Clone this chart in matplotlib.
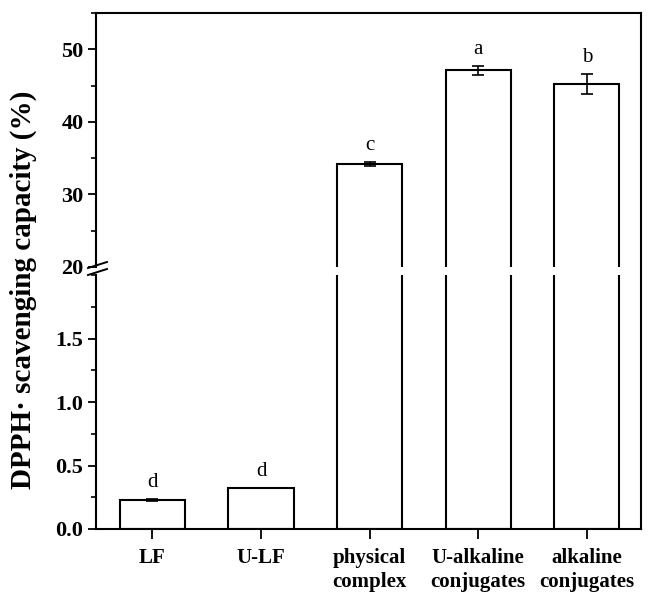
import numpy as np
import matplotlib
matplotlib.use("Agg")
from matplotlib import pyplot as plt
from matplotlib.lines import Line2D
from matplotlib.ticker import MultipleLocator

plt.rcParams["font.family"] = ["Liberation Serif", "DejaVu Serif"]

samples = ["LF", "U-LF", "physical\ncomplex", "U-alkaline\nconjugates", "alkaline\nconjugates"]
values = [0.23, 0.32, 34.2, 47.1, 45.2]
errors = [0.01, 0.0, 0.3, 0.6, 1.4]
letters = ["d", "d", "c", "a", "b"]

fig = plt.figure(figsize=(6.57, 5.96), dpi=100)
W, H = 657, 596
left, right = 96 / W, 641 / W
ax_top = fig.add_axes([left, 1 - 267 / H, right - left, (267 - 13) / H])
ax_bot = fig.add_axes([left, 1 - 529 / H, right - left, (529 - 275) / H])

x = np.arange(len(samples))
lw = 1.5
for ax in (ax_top, ax_bot):
    ax.bar(x, values, width=0.6, color="white", edgecolor="black", linewidth=lw,
           yerr=errors, capsize=4, error_kw=dict(elinewidth=1.2, capthick=1.2, ecolor="black"))
    ax.set_xlim(-0.52, 4.5)
    ax.spines["right"].set_visible(False)
    for s in ("left", "top", "bottom"):
        ax.spines[s].set_linewidth(lw)
    ax.tick_params(axis="y", which="major", direction="out", length=6, width=1.3,
                   labelsize=16, pad=3)
    ax.tick_params(axis="y", which="minor", direction="out", length=3.5, width=1.2)

ax_top.set_ylim(20, 55)
ax_top.yaxis.set_major_locator(MultipleLocator(10))
ax_top.yaxis.set_minor_locator(MultipleLocator(5))
ax_top.spines["bottom"].set_visible(False)
ax_top.tick_params(axis="x", bottom=False, labelbottom=False)

ax_bot.set_ylim(0, 2.0)
ax_bot.yaxis.set_minor_locator(MultipleLocator(0.25))
ax_bot.set_yticks([0.0, 0.5, 1.0, 1.5])
ax_bot.spines["top"].set_visible(False)
ax_bot.set_xticks(x)
ax_bot.set_xticklabels(samples, fontsize=15, fontweight="bold", linespacing=1.25)
ax_bot.tick_params(axis="x", direction="out", length=7, width=1.3, pad=7)

for ax in (ax_top, ax_bot):
    for lab in ax.get_yticklabels():
        lab.set_fontweight("bold")

# letters of significance
for i, (v, e, t) in enumerate(zip(values, errors, letters)):
    ax = ax_bot if v < 2 else ax_top
    ax.annotate(t, (x[i], v + e), xytext=(0, 5), textcoords="offset points",
                ha="center", va="bottom", fontsize=15)

# continuous right frame and break marks on the left axis
fig.add_artist(Line2D([right, right], [1 - 13 / H, 1 - 529 / H], color="black",
                      linewidth=lw, transform=fig.transFigure))
for yc in (265, 272):
    fig.add_artist(Line2D([88 / W, 107 / W], [1 - (yc + 3) / H, 1 - (yc - 3) / H],
                          color="black", linewidth=1.4, transform=fig.transFigure))

fig.text(23 / W, 1 - 290 / H, "DPPH· scavenging capacity (%)", rotation=90,
         ha="center", va="center", fontsize=21, fontweight="bold")

fig.savefig("out.png", dpi=100)
